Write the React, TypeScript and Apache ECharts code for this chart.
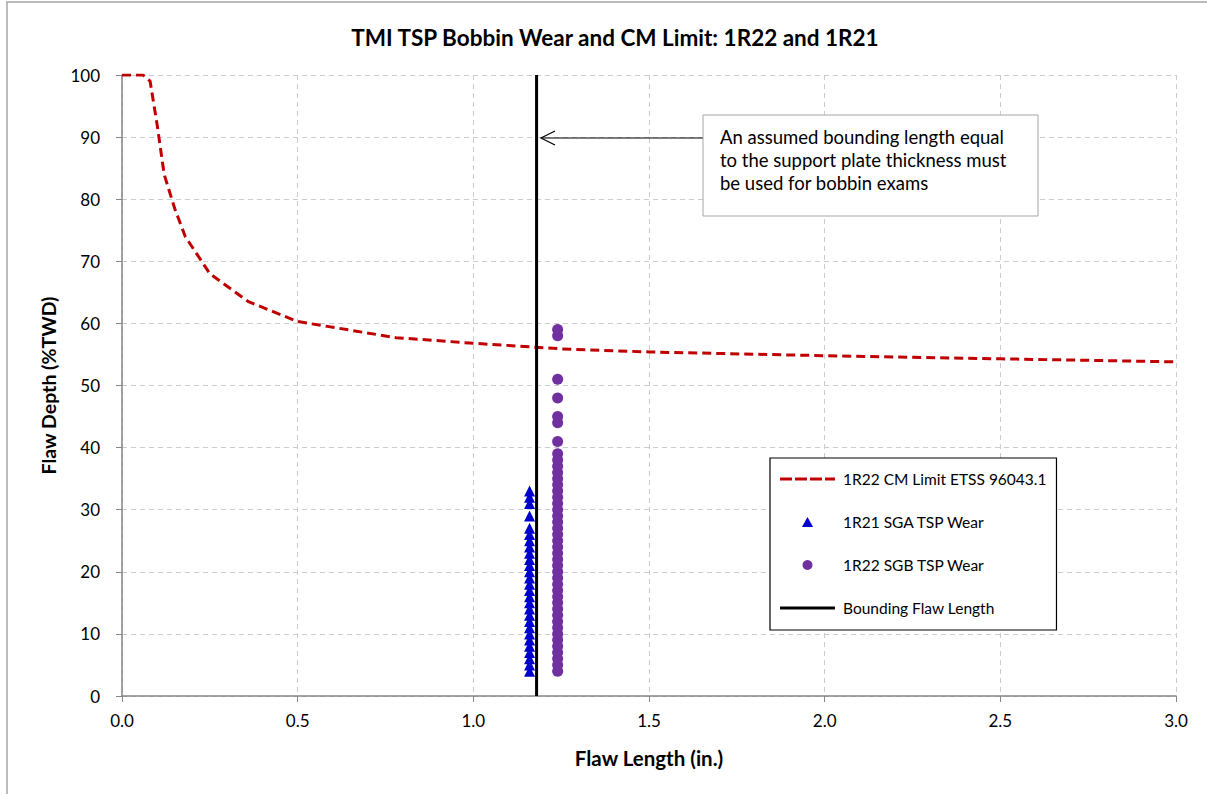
import React, { useEffect, useRef } from "react";
import * as echarts from "echarts";

const titleText = "TMI TSP Bobbin Wear and CM Limit: 1R22 and 1R21";
const xAxisName = "Flaw Length (in.)";
const yAxisName = "Flaw Depth (%TWD)";
const annotationLines = [
  "An assumed bounding length equal",
  "to the support plate thickness must",
  "be used for bobbin exams",
];

// CM limit curve (length in., depth %TWD)
const cmLimit: [number, number][] = [
  [0, 100], [0.06, 100], [0.08, 99], [0.1, 92], [0.12, 84], [0.15, 78.5],
  [0.18, 74], [0.25, 68], [0.36, 63.5], [0.5, 60.3], [0.78, 57.7], [1.0, 56.8],
  [1.25, 55.9], [1.5, 55.4], [2.0, 54.8], [2.5, 54.3], [3.0, 53.8],
];

// 1R21 SGA TSP wear: all at length 1.16 in.
const sgaLength = 1.16;
const sgaDepths = [
  4, 5, 6, 7, 8, 9, 10, 11, 12, 13, 14, 15, 16, 17, 18, 19, 20, 21, 22, 23,
  24, 25, 26, 27, 29, 31, 32, 33,
];

// 1R22 SGB TSP wear: all at length 1.24 in.
const sgbLength = 1.24;
const sgbDepths = [
  4, 5, 6, 7, 8, 9, 10, 11, 12, 13, 14, 15, 16, 17, 18, 19, 20, 21, 22, 23,
  24, 25, 26, 27, 28, 29, 30, 31, 32, 33, 34, 35, 36, 37, 38, 39, 41, 44, 45,
  48, 51, 58, 59,
];

const boundingLength = 1.18;
const boundingLine: [number, number][] = [[boundingLength, 0], [boundingLength, 100]];

const seriesNames = [
  "1R22 CM Limit ETSS 96043.1",
  "1R21 SGA TSP Wear",
  "1R22 SGB TSP Wear",
  "Bounding Flaw Length",
];

const FONT = "Lato, 'Noto Sans', sans-serif";

const dashIcon = "path://M0,0h12v3h-12z M15,0h12v3h-12z M30,0h12v3h-12z M45,0h10v3h-10z";
const solidIcon = "path://M0,0h55v3h-55z";
const triIcon = "path://M5,0L10,9L0,9Z";

export default function App() {
  const ref = useRef<HTMLDivElement>(null);

  useEffect(() => {
    if (!ref.current) return;
    const chart = echarts.init(ref.current, undefined, { renderer: "svg" });

    const gridLeft = 122;
    const gridTop = 75;
    const gridRight = 31;
    const gridBottom = 98;

    chart.setOption({
      animation: false,
      backgroundColor: "#ffffff",
      textStyle: { fontFamily: FONT },
      title: {
        text: titleText,
        left: 610,
        top: 21,
        textAlign: "center",
        textStyle: { fontFamily: FONT, fontWeight: "bold", fontSize: 22.5, color: "#000" },
      },
      grid: { left: gridLeft, top: gridTop, right: gridRight, bottom: gridBottom },
      xAxis: {
        type: "value",
        min: 0,
        max: 3,
        interval: 0.5,
        name: xAxisName,
        nameLocation: "middle",
        nameGap: 51,
        nameTextStyle: { fontFamily: FONT, fontWeight: "bold", fontSize: 20.5, color: "#000" },
        axisLine: { show: true, lineStyle: { color: "#868686", width: 1.5 } },
        axisTick: { show: true, inside: false, length: 6, lineStyle: { color: "#868686" } },
        axisLabel: {
          formatter: (v: number) => v.toFixed(1),
          fontFamily: FONT,
          fontSize: 17,
          color: "#000",
          margin: 16,
        },
        splitLine: { show: true, lineStyle: { color: "#cccccc", type: [5, 4], width: 1 } },
      },
      yAxis: {
        type: "value",
        min: 0,
        max: 100,
        interval: 10,
        name: yAxisName,
        nameLocation: "middle",
        nameGap: 64,
        nameRotate: 90,
        nameTextStyle: { fontFamily: FONT, fontWeight: "bold", fontSize: 19.5, color: "#000" },
        axisLine: { show: true, lineStyle: { color: "#868686", width: 1.5 } },
        axisTick: { show: true, inside: false, length: 6, lineStyle: { color: "#868686" } },
        axisLabel: { fontFamily: FONT, fontSize: 17, color: "#000", margin: 22 },
        splitLine: { show: true, lineStyle: { color: "#cccccc", type: [5, 4], width: 1 } },
      },
      legend: {
        show: true,
        orient: "vertical",
        left: 770,
        top: 458,
        data: [
          { name: seriesNames[0], icon: dashIcon },
          { name: seriesNames[1], icon: triIcon },
          { name: seriesNames[2], icon: "circle" },
          { name: seriesNames[3], icon: solidIcon },
        ],
        symbolKeepAspect: true,
        backgroundColor: "#ffffff",
        borderColor: "#000000",
        borderWidth: 1.2,
        padding: [13, 10, 14, 10],
        itemWidth: 55,
        itemHeight: 10,
        itemGap: 27,
        textStyle: { fontFamily: FONT, fontSize: 15.5, color: "#000", lineHeight: 14, padding: [0, 0, 0, 3] },
        selectedMode: false,
      },
      series: [
        {
          name: seriesNames[0],
          type: "line",
          data: cmLimit,
          symbol: "none",
          lineStyle: { color: "#c00000", width: 3, type: [9, 5] },
          itemStyle: { color: "#c00000" },
          z: 3,
        },
        {
          name: seriesNames[1],
          type: "scatter",
          data: sgaDepths.map((d) => [sgaLength, d]),
          symbol: "triangle",
          symbolSize: 11,
          itemStyle: { color: "#0000cc", opacity: 1 },
          z: 4,
        },
        {
          name: seriesNames[2],
          type: "scatter",
          data: sgbDepths.map((d) => [sgbLength, d]),
          symbol: "circle",
          symbolSize: 11,
          itemStyle: { color: "#7030a0", opacity: 1 },
          z: 4,
        },
        {
          name: seriesNames[3],
          type: "line",
          data: boundingLine,
          symbol: "none",
          lineStyle: { color: "#000000", width: 3, type: "solid" },
          itemStyle: { color: "#000000" },
          z: 5,
        },
      ],
      graphic: [
        {
          type: "rect",
          shape: { x: 7, y: 2, width: 1220, height: 820 },
          style: { fill: "none", stroke: "#a6a6a6", lineWidth: 1.5 },
          silent: true,
          z: -10,
        },
        {
          type: "line",
          shape: { x1: 703, y1: 138, x2: 541, y2: 138 },
          style: { stroke: "#000", lineWidth: 1.2 },
          z: 10,
        },
        {
          type: "polyline",
          shape: { points: [[555, 131], [541, 138], [555, 145]] },
          style: { stroke: "#000", lineWidth: 1.2, fill: "none" },
          z: 10,
        },
        {
          type: "rect",
          shape: { x: 703, y: 115, width: 335, height: 101 },
          style: { fill: "#ffffff", stroke: "#a6a6a6", lineWidth: 1 },
          z: 10,
        },
        ...annotationLines.map((t, i) => ({
          type: "text",
          x: 720,
          y: 137 + i * 23,
          style: {
            text: t,
            fontFamily: FONT,
            fontSize: 18.5,
            fill: "#000",
            verticalAlign: "middle",
          },
          z: 11,
        })),
      ],
    });

    return () => chart.dispose();
  }, []);

  return (
    <div
      ref={ref}
      style={{ position: "fixed", left: 0, top: 0, width: 1207, height: 794 }}
    />
  );
}
